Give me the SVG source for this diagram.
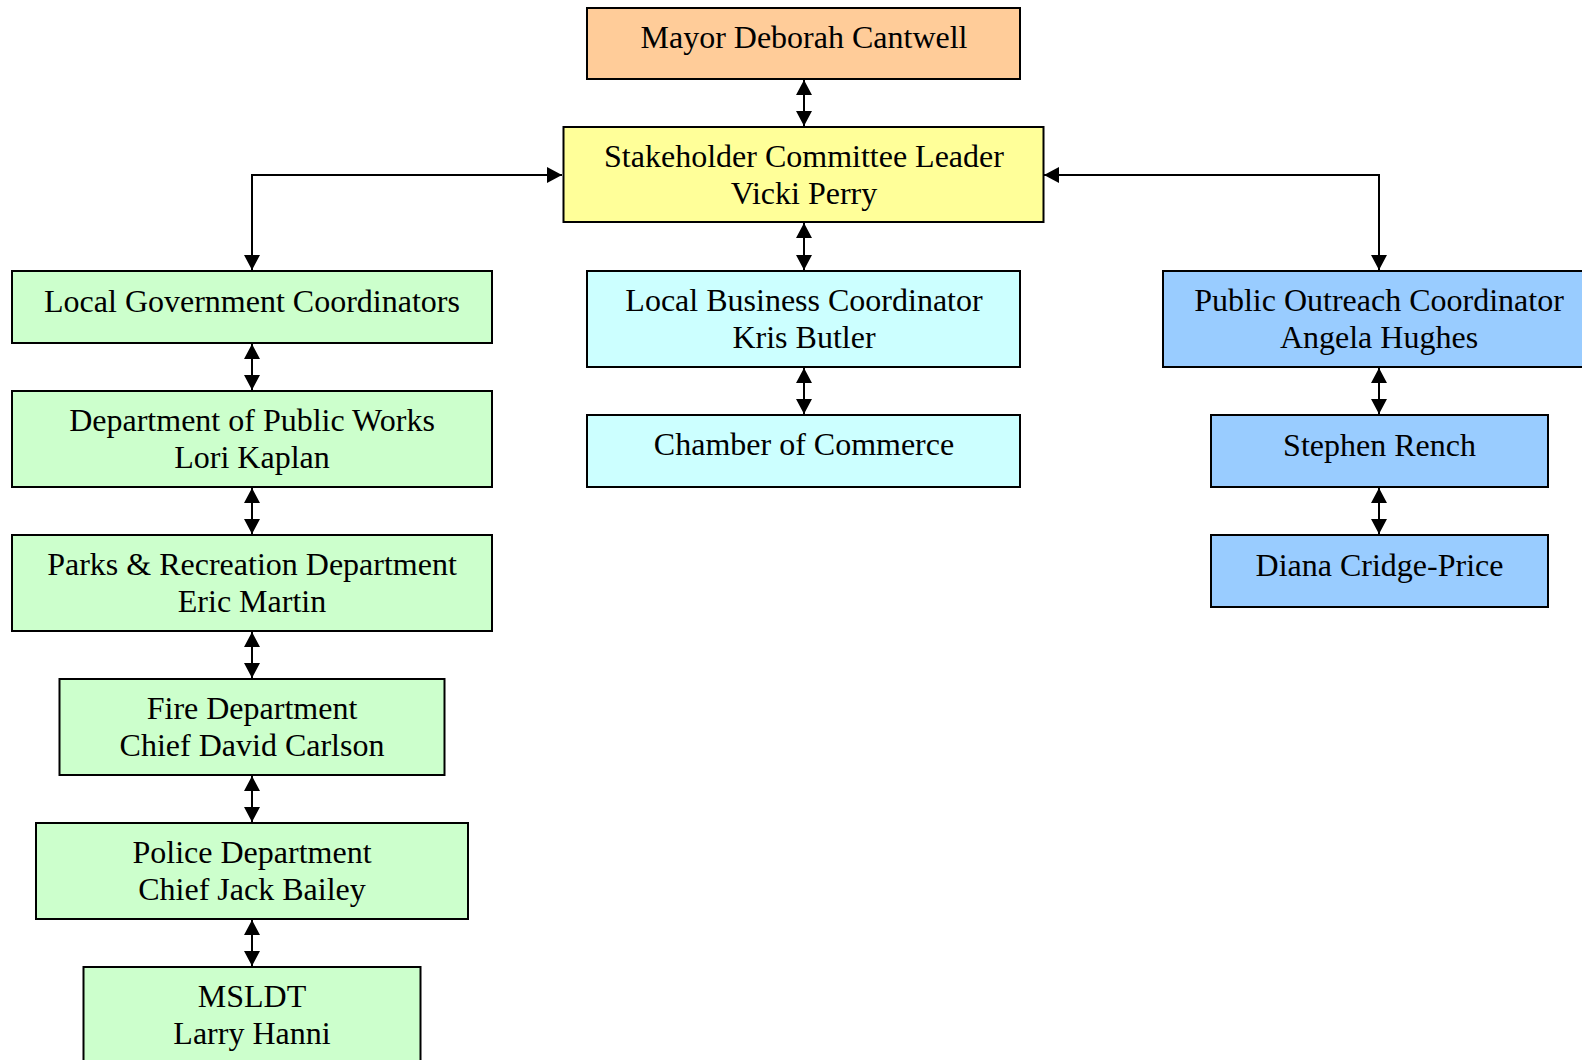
<svg xmlns="http://www.w3.org/2000/svg" width="1582" height="1060" viewBox="0 0 1582 1060">
<style>
.box{stroke:#000;stroke-width:2}
.t{font-family:"Liberation Serif","Times New Roman",serif;font-size:32px;fill:#000;text-anchor:middle}
.c{fill:none;stroke:#000;stroke-width:2}
.mayor{fill:#FFCC99}.lead{fill:#FFFF99}.gov{fill:#CCFFCC}.bus{fill:#CCFFFF}.pub{fill:#99CCFF}
</style>
<defs>
<marker id="ah" viewBox="0 0 15 16" refX="15" refY="8" markerWidth="15" markerHeight="16" markerUnits="userSpaceOnUse" orient="auto-start-reverse">
<path d="M0,0 L15,8 L0,16 z" fill="#000"/>
</marker>
</defs>
<rect width="1582" height="1060" fill="#fff"/>
<g id="connectors">
<line class="c" x1="804" y1="80" x2="804" y2="126" marker-start="url(#ah)" marker-end="url(#ah)"/>
<line class="c" x1="804" y1="223" x2="804" y2="270" marker-start="url(#ah)" marker-end="url(#ah)"/>
<line class="c" x1="804" y1="368" x2="804" y2="414" marker-start="url(#ah)" marker-end="url(#ah)"/>
<polyline class="c" points="562,175 252,175 252,270" marker-start="url(#ah)" marker-end="url(#ah)"/>
<polyline class="c" points="1044,175 1379,175 1379,270" marker-start="url(#ah)" marker-end="url(#ah)"/>
<line class="c" x1="252" y1="344" x2="252" y2="390" marker-start="url(#ah)" marker-end="url(#ah)"/>
<line class="c" x1="252" y1="488" x2="252" y2="534" marker-start="url(#ah)" marker-end="url(#ah)"/>
<line class="c" x1="252" y1="632" x2="252" y2="678" marker-start="url(#ah)" marker-end="url(#ah)"/>
<line class="c" x1="252" y1="776" x2="252" y2="822" marker-start="url(#ah)" marker-end="url(#ah)"/>
<line class="c" x1="252" y1="920" x2="252" y2="966" marker-start="url(#ah)" marker-end="url(#ah)"/>
<line class="c" x1="1379" y1="368" x2="1379" y2="414" marker-start="url(#ah)" marker-end="url(#ah)"/>
<line class="c" x1="1379" y1="488" x2="1379" y2="534" marker-start="url(#ah)" marker-end="url(#ah)"/>
</g>
<g id="mayor"><rect class="box mayor" x="587" y="8" width="433" height="71"/><text class="t" x="804" y="48">Mayor Deborah Cantwell</text></g>
<g id="leader"><rect class="box lead" x="563.5" y="127" width="480" height="95"/><text class="t" x="804" y="167">Stakeholder Committee Leader</text><text class="t" x="804" y="204">Vicki Perry</text></g>
<g id="localgov"><rect class="box gov" x="12" y="271" width="480" height="72"/><text class="t" x="252" y="312">Local Government Coordinators</text></g>
<g id="publicworks"><rect class="box gov" x="12" y="391" width="480" height="96"/><text class="t" x="252" y="431">Department of Public Works</text><text class="t" x="252" y="468">Lori Kaplan</text></g>
<g id="parks"><rect class="box gov" x="12" y="535" width="480" height="96"/><text class="t" x="252" y="575">Parks &amp; Recreation Department</text><text class="t" x="252" y="612">Eric Martin</text></g>
<g id="fire"><rect class="box gov" x="59.5" y="679" width="385" height="96"/><text class="t" x="252" y="719">Fire Department</text><text class="t" x="252" y="756">Chief David Carlson</text></g>
<g id="police"><rect class="box gov" x="36" y="823" width="432" height="96"/><text class="t" x="252" y="863">Police Department</text><text class="t" x="252" y="900">Chief Jack Bailey</text></g>
<g id="msldt"><rect class="box gov" x="83.5" y="967" width="337" height="96"/><text class="t" x="252" y="1007">MSLDT</text><text class="t" x="252" y="1044">Larry Hanni</text></g>
<g id="business"><rect class="box bus" x="587" y="271" width="433" height="96"/><text class="t" x="804" y="311">Local Business Coordinator</text><text class="t" x="804" y="348">Kris Butler</text></g>
<g id="chamber"><rect class="box bus" x="587" y="415" width="433" height="72"/><text class="t" x="804" y="455">Chamber of Commerce</text></g>
<g id="outreach"><rect class="box pub" x="1163" y="271" width="432" height="96"/><text class="t" x="1379" y="311">Public Outreach Coordinator</text><text class="t" x="1379" y="348">Angela Hughes</text></g>
<g id="rench"><rect class="box pub" x="1211" y="415" width="337" height="72"/><text class="t" x="1379.5" y="456">Stephen Rench</text></g>
<g id="cridge"><rect class="box pub" x="1211" y="535" width="337" height="72"/><text class="t" x="1379.5" y="576">Diana Cridge-Price</text></g>
</svg>
